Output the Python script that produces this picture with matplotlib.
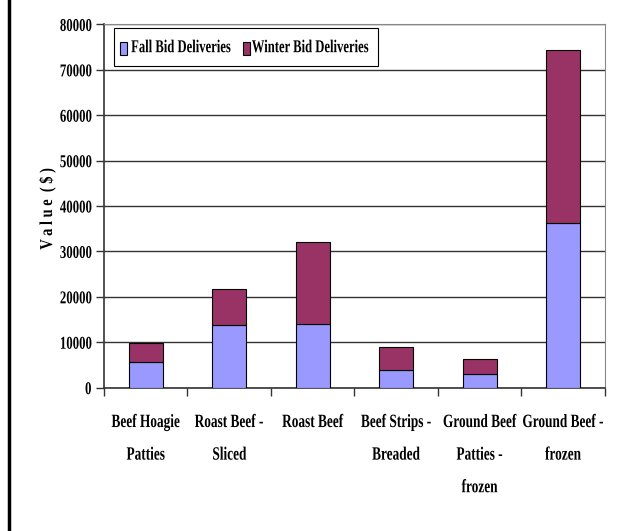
import matplotlib.pyplot as plt
import numpy as np
from matplotlib.lines import Line2D
from matplotlib.patches import Rectangle
from matplotlib.patheffects import AbstractPathEffect
from matplotlib.transforms import Affine2D, Bbox

categories = ["Beef Hoagie\nPatties", "Roast Beef -\nSliced", "Roast Beef",
              "Beef Strips -\nBreaded", "Ground Beef\nPatties -\nfrozen", "Ground Beef -\nfrozen"]
fall = [5700, 13700, 14000, 3800, 2950, 36200]
winter = [4200, 8000, 18100, 5150, 3450, 38200]
series = ["Fall Bid Deliveries", "Winter Bid Deliveries"]
colors = ["#9999FF", "#993366"]


class Condense(AbstractPathEffect):
    """Squeeze glyphs along the text direction (narrow, condensed look)."""

    def __init__(self, sx=0.7, anchor="center"):
        super().__init__()
        self.sx = sx
        self.anchor = anchor

    def draw_path(self, renderer, gc, tpath, affine, rgbFace=None):
        ext = tpath.get_extents()
        cx = {"left": ext.x0, "right": ext.x1}.get(self.anchor, (ext.x0 + ext.x1) / 2)
        t = Affine2D().translate(-cx, 0).scale(self.sx, 1).translate(cx, 0) + affine
        renderer.draw_path(gc, tpath, t, rgbFace)


def narrow(text, sx, anchor="center", vertical=False):
    """Condense a Text and make its reported extent follow the drawn glyphs."""
    text.set_path_effects([Condense(sx, anchor)])
    orig = text.get_window_extent

    def extent(renderer=None, dpi=None):
        bb = orig(renderer, dpi)
        lo, hi = (bb.y0, bb.y1) if vertical else (bb.x0, bb.x1)
        ref = {"left": lo, "right": hi}.get(anchor, (lo + hi) / 2)
        lo, hi = ref + (lo - ref) * sx, ref + (hi - ref) * sx
        if vertical:
            return Bbox.from_extents(bb.x0, lo, bb.x1, hi)
        return Bbox.from_extents(lo, bb.y0, hi, bb.y1)

    text.get_window_extent = extent
    return text


plt.rcParams['font.family'] = ['Liberation Serif', 'DejaVu Serif']
plt.rcParams['font.weight'] = 'bold'

fig = plt.figure(figsize=(6.38, 5.31), dpi=100)
ax = fig.add_axes([0.163, 0.270, 0.785, 0.684])

x = np.arange(len(categories))
ax.bar(x, fall, width=0.41, color=colors[0], edgecolor="black", linewidth=0.8, zorder=3)
ax.bar(x, winter, bottom=fall, width=0.41, color=colors[1], edgecolor="black",
       linewidth=0.8, zorder=3)

ax.set_xlim(-0.5, len(categories) - 0.5)
ax.set_ylim(0, 80000)
ax.set_yticks(range(0, 80001, 10000))
ax.yaxis.grid(True, color="#333333", linewidth=1.0, zorder=0)

# ticks sit between categories, labels under the bar centres
ax.set_xticks(np.arange(-0.5, len(categories)))
ax.set_xticklabels([])
ax.set_xticks(x, minor=True)
ax.set_xticklabels(categories, minor=True, fontsize=13.5, fontweight='bold',
                   linespacing=2.2, va='top')
ax.tick_params(axis='x', which='minor', length=0, pad=19)
ax.tick_params(axis='x', which='major', length=6, width=1, color="#333333")
ax.tick_params(axis='y', length=6, width=1, color="#333333", labelsize=13, pad=3)

for lab in ax.get_xticklabels(minor=True):
    narrow(lab, 0.71, "center")
for lab in ax.get_yticklabels():
    lab.set_fontweight('bold')
    narrow(lab, 0.71, "right")

for side in ['top', 'right']:
    ax.spines[side].set_color("#888888")
for side in ['left', 'bottom']:
    ax.spines[side].set_color("#333333")
    ax.spines[side].set_linewidth(1.2)

ylab = fig.text(47 / 638, 1 - 209 / 531, "V a l u e  ( $ )", rotation=90, ha='center',
                va='center', fontsize=13, fontweight='bold')
narrow(ylab, 0.8, "center", vertical=True)

# legend box, drawn by hand so the narrow text fits snugly
ax.add_patch(Rectangle((0.020, 0.886), 0.527, 0.104, transform=ax.transAxes,
                       facecolor="white", edgecolor="black", linewidth=0.8, zorder=5))
for hx, tx, col, name in zip([0.032, 0.277], [0.054, 0.295], colors, series):
    ax.add_patch(Rectangle((hx, 0.916), 0.014, 0.036, transform=ax.transAxes,
                           facecolor=col, edgecolor="black", linewidth=0.8, zorder=6))
    t = ax.text(tx, 0.936, name, transform=ax.transAxes, ha='left', va='center',
                fontsize=13, fontweight='bold', zorder=6)
    narrow(t, 0.7, "left")

# frame line along the left edge of the figure
fig.add_artist(Line2D([0.0141, 0.0141], [0, 1], color="black", linewidth=2.5,
                      transform=fig.transFigure))

fig.savefig("out.png", dpi=100)
